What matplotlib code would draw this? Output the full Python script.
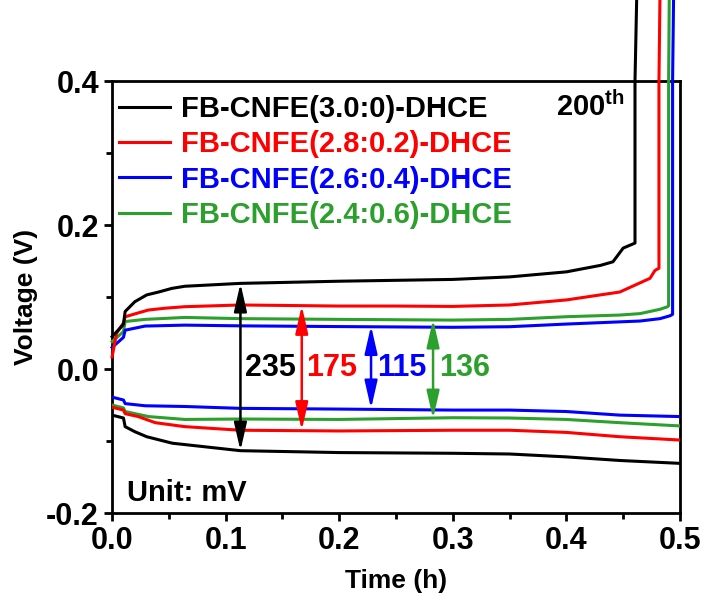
import matplotlib
matplotlib.use('Agg')
import matplotlib.pyplot as plt
from matplotlib.lines import Line2D
from matplotlib.ticker import MultipleLocator

plt.rcParams['font.family'] = 'Liberation Sans'
plt.rcParams['font.weight'] = 'bold'
plt.rcParams['axes.unicode_minus'] = False
plt.rcParams['mathtext.fontset'] = 'custom'
plt.rcParams['mathtext.rm'] = 'Liberation Sans:bold'
plt.rcParams['mathtext.bf'] = 'Liberation Sans:bold'

# series names and colours
labels = ['FB-CNFE(3.0:0)-DHCE', 'FB-CNFE(2.8:0.2)-DHCE',
          'FB-CNFE(2.6:0.4)-DHCE', 'FB-CNFE(2.4:0.6)-DHCE']
colors = ['black', 'red', 'blue', '#2ca02c']

# upper (charge) branches, time in h, voltage in V
t_up_black = [0, 0.010, 0.0115, 0.020, 0.0305, 0.041, 0.0525, 0.064, 0.113, 0.20,
              0.30, 0.35, 0.40, 0.43, 0.441, 0.45, 0.4604, 0.4604, 0.463]
v_up_black = [0.045, 0.062, 0.080, 0.0935, 0.103, 0.107, 0.112, 0.115, 0.119, 0.122,
              0.1245, 0.128, 0.135, 0.144, 0.149, 0.168, 0.175, 0.40, 0.60]
t_up_red = [0, 0.004, 0.010, 0.0115, 0.023, 0.032, 0.0467, 0.064, 0.113, 0.20,
            0.25, 0.30, 0.35, 0.40, 0.447, 0.4736, 0.478, 0.4815, 0.4815, 0.483]
v_up_red = [0.017, 0.050, 0.064, 0.0726, 0.078, 0.082, 0.0845, 0.0866, 0.089, 0.0875,
            0.0875, 0.087, 0.089, 0.096, 0.107, 0.126, 0.137, 0.140, 0.40, 0.60]
t_up_blue = [0, 0.010, 0.0115, 0.029, 0.064, 0.113, 0.20, 0.30, 0.35, 0.40,
             0.4648, 0.4824, 0.4912, 0.4935, 0.4935, 0.495]
v_up_blue = [0.030, 0.044, 0.054, 0.0597, 0.061, 0.060, 0.059, 0.058, 0.0588, 0.0625,
             0.0667, 0.070, 0.074, 0.076, 0.40, 0.60]
t_up_green = [0, 0.010, 0.0115, 0.029, 0.064, 0.113, 0.20, 0.30, 0.35, 0.40,
              0.447, 0.4648, 0.4824, 0.489, 0.490, 0.490, 0.491]
v_up_green = [0.038, 0.052, 0.066, 0.069, 0.0717, 0.070, 0.069, 0.068, 0.069, 0.0727,
              0.075, 0.077, 0.083, 0.0865, 0.088, 0.40, 0.60]

# lower (discharge) branches
t_lo_black = [0, 0.010, 0.0115, 0.020, 0.0305, 0.053, 0.113, 0.20, 0.30, 0.35, 0.40, 0.447, 0.50]
v_lo_black = [-0.064, -0.068, -0.080, -0.087, -0.094, -0.103, -0.1134, -0.116, -0.117,
              -0.118, -0.122, -0.127, -0.131]
t_lo_red = [0, 0.010, 0.0115, 0.023, 0.038, 0.064, 0.113, 0.20, 0.30, 0.35, 0.40, 0.447, 0.50]
v_lo_red = [-0.053, -0.057, -0.062, -0.066, -0.0745, -0.080, -0.085, -0.086, -0.085,
            -0.085, -0.088, -0.094, -0.0986]
t_lo_blue = [0, 0.010, 0.0115, 0.029, 0.064, 0.113, 0.20, 0.30, 0.35, 0.40, 0.447, 0.50]
v_lo_blue = [-0.039, -0.043, -0.048, -0.051, -0.052, -0.0546, -0.0556, -0.057, -0.057,
             -0.059, -0.064, -0.066]
t_lo_green = [0, 0.010, 0.0115, 0.032, 0.064, 0.113, 0.20, 0.30, 0.35, 0.40, 0.447, 0.50]
v_lo_green = [-0.050, -0.054, -0.059, -0.066, -0.070, -0.0694, -0.070, -0.0676, -0.068,
              -0.070, -0.0745, -0.079]

# overpotential arrows: x position, top, bottom, label
arrow_x = [0.113, 0.167, 0.228, 0.2826]
arrow_top = [0.119, 0.088, 0.060, 0.069]
arrow_bot = [-0.1134, -0.085, -0.055, -0.069]
arrow_text = ['235', '175', '115', '136']
text_x = [0.139, 0.1937, 0.2555, 0.310]

ups = [(t_up_black, v_up_black), (t_up_red, v_up_red),
       (t_up_blue, v_up_blue), (t_up_green, v_up_green)]
los = [(t_lo_black, v_lo_black), (t_lo_red, v_lo_red),
       (t_lo_blue, v_lo_blue), (t_lo_green, v_lo_green)]

fig = plt.figure(figsize=(7.05, 6.05), dpi=100)
ax = fig.add_axes([0.159, 0.152, 0.8055, 0.714])

# draw in reverse so black is on top
for i in [3, 2, 1, 0]:
    ax.plot(*ups[i], color=colors[i], lw=2.2, clip_on=False, zorder=3)
    ax.plot(*los[i], color=colors[i], lw=2.2, zorder=3)

for i in range(4):
    ax.annotate('', xy=(arrow_x[i], arrow_bot[i]), xytext=(arrow_x[i], arrow_top[i]),
                arrowprops=dict(arrowstyle='<|-|>,head_length=0.7,head_width=0.16',
                                color=colors[i], lw=1.8,
                                mutation_scale=24, shrinkA=0, shrinkB=0))
    ax.text(text_x[i], 0.002, arrow_text[i], color=colors[i], fontsize=22,
            fontweight='bold', ha='center', va='center')

handles = [Line2D([], [], color=c, lw=2.2) for c in colors]
ax.legend(handles, labels, loc='upper left', frameon=False, fontsize=21,
          labelcolor='linecolor', handlelength=1.75, handletextpad=0.35,
          labelspacing=0.25, borderaxespad=0.2, bbox_to_anchor=(-0.018, 1.008))

ax.text(0.4516, 0.365, r'200$^{\mathbf{th}}$', fontsize=21, fontweight='bold',
        ha='right', va='center')
ax.text(0.0132, -0.172, 'Unit: mV', fontsize=21, fontweight='bold',
        ha='left', va='center')

ax.set_xlim(0, 0.5)
ax.set_ylim(-0.2, 0.4)
ax.xaxis.set_major_locator(MultipleLocator(0.1))
ax.xaxis.set_minor_locator(MultipleLocator(0.05))
ax.yaxis.set_major_locator(MultipleLocator(0.2))
ax.yaxis.set_minor_locator(MultipleLocator(0.1))
ax.tick_params(which='both', direction='out', width=2, labelsize=22)
ax.tick_params(which='major', length=6)
ax.tick_params(which='minor', length=4)
for s in ax.spines.values():
    s.set_linewidth(2)
for lab in ax.get_xticklabels() + ax.get_yticklabels():
    lab.set_fontweight('bold')

ax.set_xlabel('Time (h)', fontsize=19, fontweight='bold', labelpad=9)
ax.set_ylabel('Voltage (V)', fontsize=19, fontweight='bold', labelpad=6)

fig.savefig('out.png', dpi=100)
